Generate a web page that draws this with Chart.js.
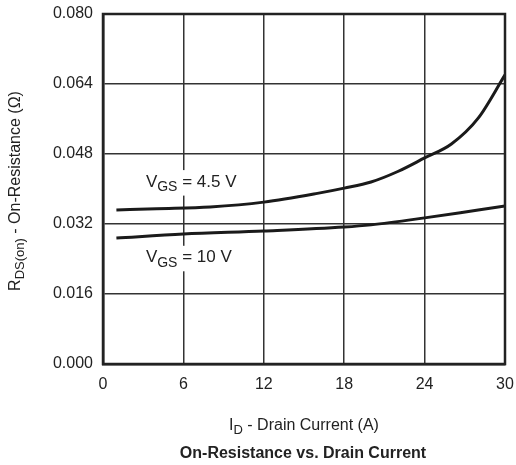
<!DOCTYPE html>
<html>
<head>
<meta charset="utf-8">
<script src="https://cdn.jsdelivr.net/npm/chart.js@4"></script>
<style>
  html, body { margin: 0; padding: 0; background: #fff; }
  #wrap { width: 516px; height: 465px; }
</style>
</head>
<body>
<div id="wrap"><canvas id="chart"></canvas></div>
<script>
// Drain current (A) and on-resistance (ohm)
const current45 = [1, 4, 8, 12, 16, 18, 20, 22, 24, 26, 28, 30];
const rds45 = [0.0352, 0.0355, 0.0359, 0.0370, 0.0390, 0.0402, 0.0416, 0.0440, 0.0471, 0.0503, 0.0562, 0.0661];
const current10 = [1, 6, 12, 18, 20, 24, 28, 30];
const rds10 = [0.0288, 0.0297, 0.0304, 0.0313, 0.0318, 0.0334, 0.0352, 0.0361];
const xTicks = [0, 6, 12, 18, 24, 30];
const yTicks = [0, 0.016, 0.032, 0.048, 0.064, 0.080];

const inkColor = "#222";
const fontFamily = "'Liberation Sans', Arial, sans-serif";

function toPoints(xs, ys) {
    return xs.map((x, i) => ({ x: x, y: ys[i] }));
}

// draws "main" + subscript + "rest" starting at x (left aligned), vertical middle at y
function drawSubText(ctx, x, y, main, sub, rest, size, bg) {
    ctx.font = size + "px " + fontFamily;
    let w1 = ctx.measureText(main).width;
    ctx.font = Math.round(size * 0.8) + "px " + fontFamily;
    let w2 = ctx.measureText(sub).width;
    ctx.font = size + "px " + fontFamily;
    let w3 = ctx.measureText(rest).width;
    let total = w1 + w2 + w3;
    if (bg) {
        ctx.fillStyle = "#fff";
        ctx.fillRect(x - 3, y - size * 0.7, total + 6, size * 1.5);
    }
    ctx.fillStyle = inkColor;
    ctx.textBaseline = "middle";
    ctx.textAlign = "left";
    ctx.fillText(main, x, y);
    ctx.font = Math.round(size * 0.8) + "px " + fontFamily;
    ctx.fillText(sub, x + w1, y + size * 0.3);
    ctx.font = size + "px " + fontFamily;
    ctx.fillText(rest, x + w1 + w2, y);
    return total;
}

function subTextWidth(ctx, main, sub, rest, size) {
    ctx.font = size + "px " + fontFamily;
    let w = ctx.measureText(main).width + ctx.measureText(rest).width;
    ctx.font = Math.round(size * 0.8) + "px " + fontFamily;
    return w + ctx.measureText(sub).width;
}

const decorPlugin = {
    id: "decor",
    afterDatasetsDraw(chart) {
        const ctx = chart.ctx;
        const a = chart.chartArea;
        const xs = chart.scales.x, ys = chart.scales.y;
        ctx.save();
        // heavy frame
        ctx.strokeStyle = inkColor;
        ctx.lineWidth = 2.5;
        ctx.strokeRect(a.left, a.top, a.right - a.left, a.bottom - a.top);

        // curve labels
        drawSubText(ctx, xs.getPixelForValue(3.2), ys.getPixelForValue(0.0416), "V", "GS", " = 4.5 V", 17, true);
        drawSubText(ctx, xs.getPixelForValue(3.2), ys.getPixelForValue(0.0243), "V", "GS", " = 10 V", 17, true);

        // x axis title
        let cx = (a.left + a.right) / 2;
        let wx = subTextWidth(ctx, "I", "D", " - Drain Current (A)", 16);
        drawSubText(ctx, cx - wx / 2, 426, "I", "D", " - Drain Current (A)", 16, false);

        // chart title
        ctx.font = "bold 16px " + fontFamily;
        ctx.textAlign = "center";
        ctx.textBaseline = "middle";
        ctx.fillStyle = inkColor;
        ctx.fillText("On-Resistance vs. Drain Current", cx - 1, 454);

        // y axis title (rotated)
        ctx.translate(16, (a.top + a.bottom) / 2 + 2);
        ctx.rotate(-Math.PI / 2);
        let wy = subTextWidth(ctx, "R", "DS(on)", " - On-Resistance (\u03A9)", 16);
        drawSubText(ctx, -wy / 2, 0, "R", "DS(on)", " - On-Resistance (\u03A9)", 16, false);
        ctx.restore();
    }
};

new Chart(document.getElementById("chart"), {
    type: "line",
    data: {
        datasets: [
            {
                label: "VGS = 4.5 V",
                data: toPoints(current45, rds45),
                borderColor: "#1a1a1a",
                borderWidth: 3,
                pointRadius: 0,
                cubicInterpolationMode: "monotone",
                fill: false
            },
            {
                label: "VGS = 10 V",
                data: toPoints(current10, rds10),
                borderColor: "#1a1a1a",
                borderWidth: 3,
                pointRadius: 0,
                cubicInterpolationMode: "monotone",
                fill: false
            }
        ]
    },
    options: {
        responsive: true,
        maintainAspectRatio: false,
        animation: false,
        layout: { padding: { top: 14, right: 11, left: 0, bottom: 0 } },
        plugins: {
            legend: { display: false },
            tooltip: { enabled: false }
        },
        scales: {
            x: {
                type: "linear",
                min: 0,
                max: 30,
                afterBuildTicks: (s) => { s.ticks = xTicks.map(v => ({ value: v })); },
                afterFit: (s) => { s.height = 101; s.paddingLeft = 0; s.paddingRight = 0; },
                grid: { color: "#333", lineWidth: 1.5, drawTicks: false },
                border: { color: inkColor, width: 2.5 },
                ticks: {
                    color: inkColor,
                    padding: 11,
                    font: { family: fontFamily, size: 16 }
                }
            },
            y: {
                min: 0,
                max: 0.08,
                afterBuildTicks: (s) => { s.ticks = yTicks.map(v => ({ value: v })); },
                afterFit: (s) => { s.width = 103; s.paddingTop = 0; s.paddingBottom = 0; },
                grid: { color: "#333", lineWidth: 1.5, drawTicks: false },
                border: { color: inkColor, width: 2.5 },
                ticks: {
                    color: inkColor,
                    padding: 10,
                    font: { family: fontFamily, size: 16 },
                    callback: (v) => Number(v).toFixed(3)
                }
            }
        }
    },
    plugins: [decorPlugin]
});
</script>
</body>
</html>
